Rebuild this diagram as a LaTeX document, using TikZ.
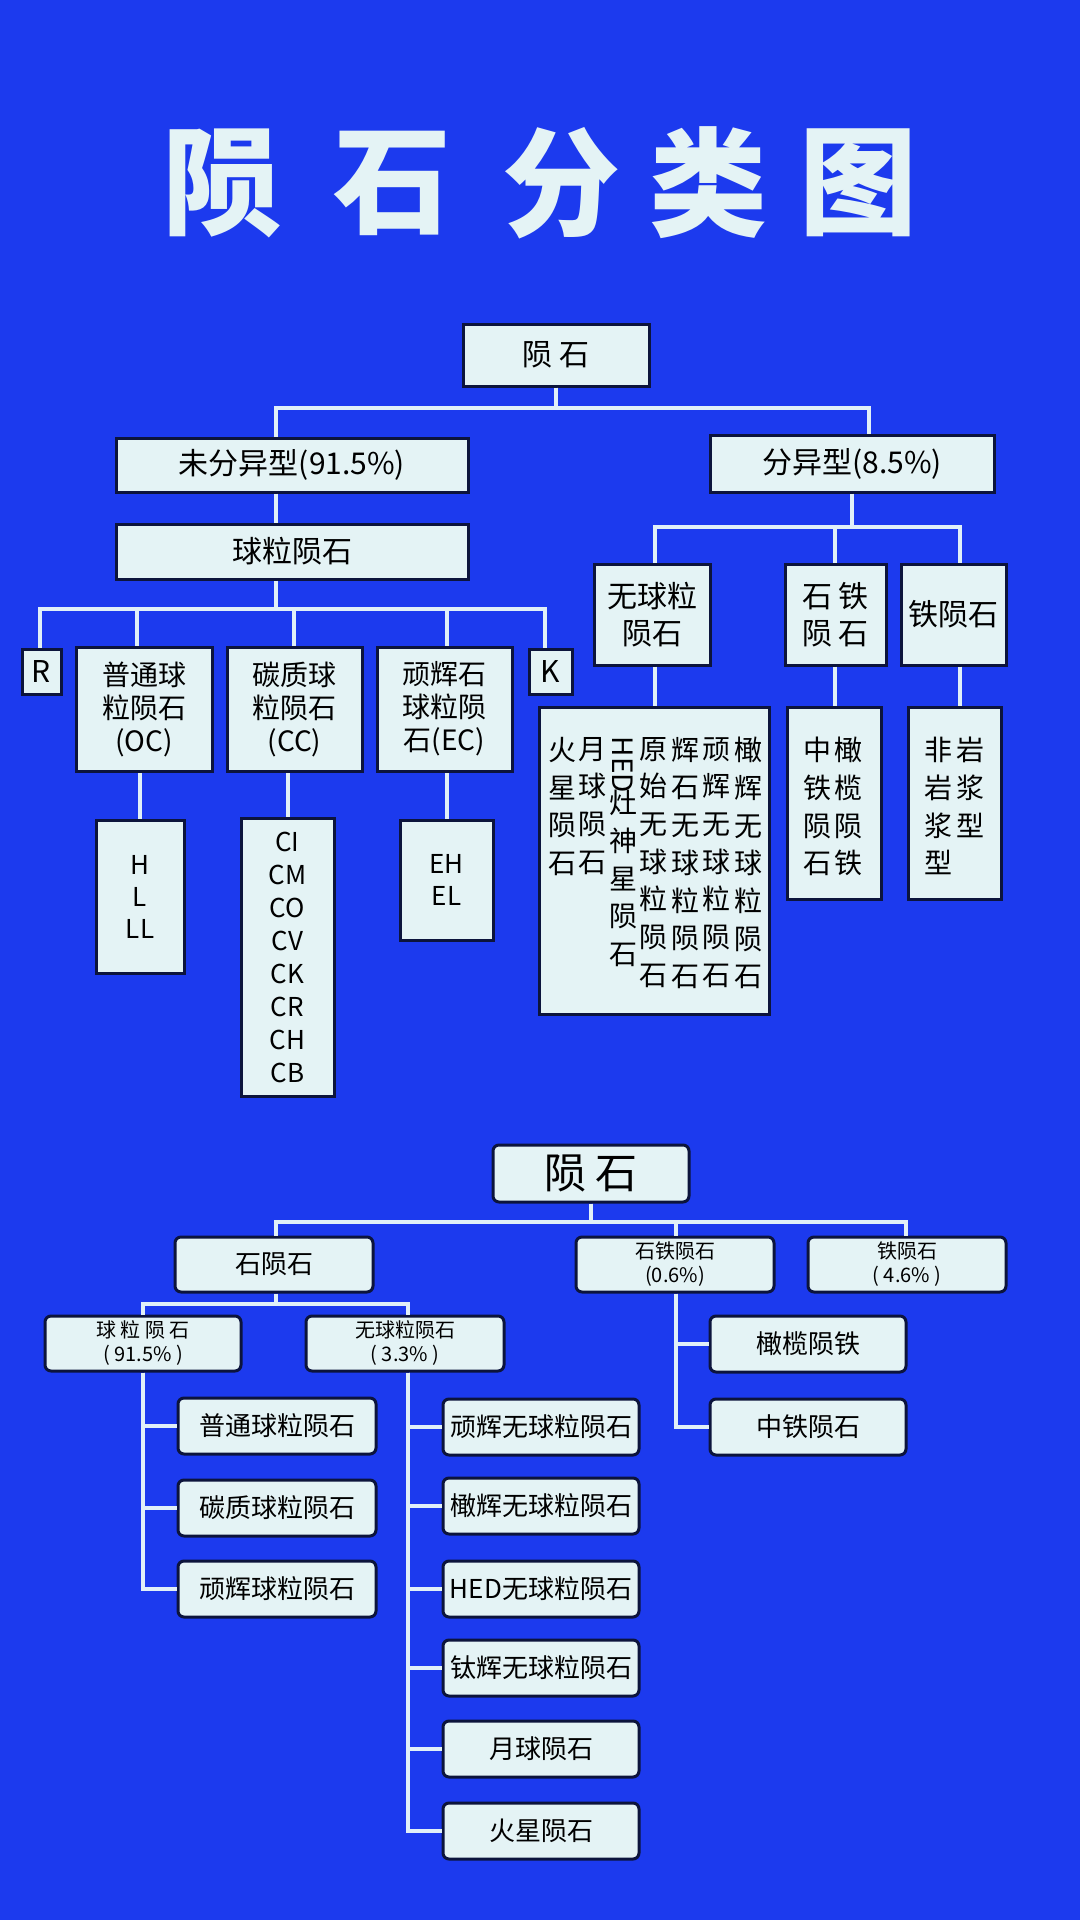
\documentclass[tikz,border=0pt]{standalone}
\usepackage{fontspec}
\setmainfont{Noto Sans CJK SC}
\definecolor{bgc}{RGB}{28,58,238}
\definecolor{boxc}{RGB}{228,243,245}
\definecolor{edgec}{RGB}{12,20,60}
\definecolor{lnc}{RGB}{225,240,248}
\newcommand{\fs}[2]{\fontsize{#1}{#2}\selectfont}
\newcommand{\bx}[7]{\node[#6, minimum width={(#4)-(#2)}, minimum height={(#5)-(#3)}] (#1) at ({((#2)+(#4))/2},{((#3)+(#5))/2}) {#7};}
\tikzset{
 tb/.style={draw=edgec, line width=3pt, fill=boxc, inner sep=0pt, align=center, text=black},
 bb/.style={tb, rounded corners=6pt},
 ln/.style={draw=lnc, line width=4pt},
 col/.style={anchor=north, inner sep=0pt, align=center, font=\fs{28}{37.7}}
}
\begin{document}
\begin{tikzpicture}[x=1pt,y=-1pt]
\fill[bgc] (0,0) rectangle (1080,1920);
\useasboundingbox (0,0) rectangle (1080,1920);
% title
\foreach \c/\x in {陨/222,石/392,分/561,类/708,图/858}
  \node[text=boxc, font=\fs{118}{118}\bfseries] (t\x) at (\x,183) {\c};
% ===== top tree =====
\bx{r}{463}{324}{649}{386}{tb,font=\fs{30}{36}}{陨 石}
\bx{u}{116}{438}{468}{492}{tb,font=\fs{30}{36}}{未分异型(91.5\%)}
\bx{d}{710}{435}{994}{492}{tb,font=\fs{30}{36}}{分异型(8.5\%)}
\bx{q}{116}{524}{468}{579}{tb,font=\fs{30}{36}}{球粒陨石}
\bx{R}{22}{649}{61}{694}{tb,font=\fs{30}{36}}{R}
\bx{oc}{76}{647}{212}{771}{tb,font=\fs{28}{33}}{普通球\\粒陨石\\(OC)}
\bx{cc}{227}{647}{362}{771}{tb,font=\fs{28}{33}}{碳质球\\粒陨石\\(CC)}
\bx{ec}{377}{647}{512}{771}{tb,font=\fs{28}{33}}{顽辉石\\球粒陨\\石(EC)}
\bx{K}{529}{649}{572}{694}{tb,font=\fs{30}{36}}{K}
\bx{hl}{96}{820}{184}{973}{tb,font=\fs{26}{32}}{H\\L\\LL}
\bx{ci}{241}{818}{334}{1096}{tb,font=\fs{26}{33}}{CI\\CM\\CO\\CV\\CK\\CR\\CH\\CB}
\bx{eh}{400}{820}{493}{940}{tb,font=\fs{26}{32}}{EH\\EL}
\bx{wq}{594}{564}{710}{665}{tb,font=\fs{30}{37}}{无球粒\\陨石}
\bx{st}{785}{564}{886}{665}{tb,font=\fs{30}{37}}{石 铁\\陨 石}
\bx{ti}{901}{564}{1006}{665}{tb,font=\fs{30}{37}}{铁陨石}
\bx{big}{539}{707}{769}{1014}{tb}{}
\bx{zg}{787}{707}{881}{899}{tb}{}
\bx{fy}{908}{707}{1001}{899}{tb}{}
\foreach \x/\t in {562/火\\星\\陨\\石, 592/月\\球\\陨\\石, 653/原\\始\\无\\球\\粒\\陨\\石, 685/辉\\石\\无\\球\\粒\\陨\\石, 716/顽\\辉\\无\\球\\粒\\陨\\石, 748/橄\\辉\\无\\球\\粒\\陨\\石, 817/中\\铁\\陨\\石, 848/橄\\榄\\陨\\铁, 938/非\\岩\\浆\\型, 970/岩\\浆\\型}
  \node[col] (c\x) at (\x,737) {\t};
\node[inner sep=0pt, rotate=-90, font=\fs{28}{30}] (hed) at (623,765) {HED};
\node[col] (c623) at (623,790) {灶\\神\\星\\陨\\石};
% connectors top
\draw[ln] (r.south) |- (276,408) -- (u.north -| 276,0);
\draw[ln] (r.south) |- (869,408) -- (d.north -| 869,0);
\draw[ln] (u.south -| 276,0) -- (q.north -| 276,0);
\draw[ln] (q.south -| 276,0) -- (276,609);
\foreach \n/\x in {R/40,oc/137,cc/294,ec/447,K/545} \draw[ln] (276,609) -| (\n.north -| \x,0);
\draw[ln] (hl.north) -- (hl.north |- oc.south);
\draw[ln] (ci.north) -- (ci.north |- cc.south);
\draw[ln] (eh.north) -- (eh.north |- ec.south);
\draw[ln] (d.south -| 852,0) -- (852,527);
\foreach \n/\x in {wq/655,st/835,ti/960} \draw[ln] (852,527) -| (\n.north -| \x,0);
\draw[ln] (wq.south -| 655,0) -- (big.north -| 655,0);
\draw[ln] (st.south -| 835,0) -- (zg.north -| 835,0);
\draw[ln] (ti.south -| 960,0) -- (fy.north -| 960,0);
% ===== bottom tree =====
\bx{R2}{493}{1145}{689}{1202}{bb,font=\fs{42}{46}}{陨 石}
\bx{sy}{175}{1237}{373}{1292}{bb,font=\fs{26}{30}}{石陨石}
\bx{sty}{576}{1237}{774}{1292}{bb,font=\fs{20}{24}}{石铁陨石\\(0.6\%)}
\bx{ty}{808}{1237}{1006}{1292}{bb,font=\fs{20}{24}}{铁陨石\\( 4.6\% )}
\bx{qy}{45}{1316}{241}{1371}{bb,font=\fs{20}{24}}{球 粒 陨 石\\( 91.5\% )}
\bx{wy}{306}{1316}{504}{1371}{bb,font=\fs{20}{24}}{无球粒陨石\\( 3.3\% )}
\draw[ln] (R2.south) |- (276,1222) -- (sy.north -| 276,0);
\draw[ln] (R2.south) |- (906,1222) -- (ty.north -| 906,0);
\draw[ln] (676,1222) -- (sty.north -| 676,0);
\draw[ln] (sy.south -| 276,0) |- (143,1304) -- (qy.north -| 143,0);
\draw[ln] (276,1304) -| (wy.north -| 408,0);
\foreach \n/\y/\t in {a1/1426/普通球粒陨石, a2/1508/碳质球粒陨石, a3/1589/顽辉球粒陨石} {
  \bx{\n}{178}{\y-28}{376}{\y+28}{bb,font=\fs{26}{30}}{\t}
  \draw[ln] (qy.south -| 143,0) |- (\n.west);
}
\foreach \n/\y/\t in {b1/1427/顽辉无球粒陨石, b2/1506/橄辉无球粒陨石, b3/1589/HED无球粒陨石, b4/1668/钛辉无球粒陨石, b5/1749/月球陨石, b6/1831/火星陨石} {
  \bx{\n}{443}{\y-28}{639}{\y+28}{bb,font=\fs{26}{30}}{\t}
  \draw[ln] (wy.south -| 408,0) |- (\n.west);
}
\foreach \n/\y/\t in {s1/1344/橄榄陨铁, s2/1427/中铁陨石} {
  \bx{\n}{710}{\y-28}{906}{\y+28}{bb,font=\fs{26}{30}}{\t}
  \draw[ln] (sty.south -| 676,0) |- (\n.west);
}
\end{tikzpicture}
\end{document}
